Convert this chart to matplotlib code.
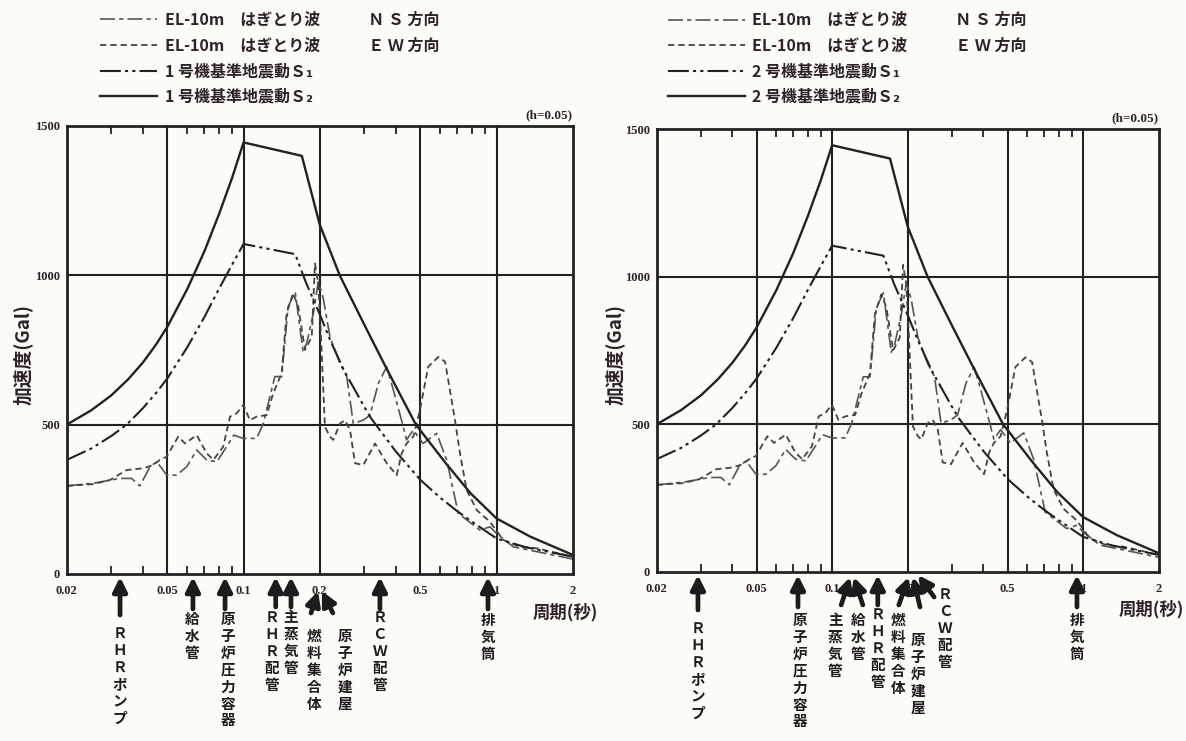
import numpy as np
import matplotlib
matplotlib.use('Agg')
import matplotlib.pyplot as plt

plt.rcParams['font.family'] = ['Noto Sans CJK JP', 'DejaVu Sans']

# ---- response spectra (period [s], acceleration [Gal]) ----
s2_period = [0.02, 0.025, 0.03, 0.035, 0.04, 0.045, 0.05, 0.06, 0.07, 0.08, 0.09, 0.1,
             0.17, 0.2, 0.24, 0.3, 0.37, 0.48, 0.63, 0.79, 1.0, 1.36, 2.0]
s2_acc = [500, 548, 598, 652, 708, 767, 828, 955, 1080, 1205, 1325, 1445,
          1400, 1170, 1000, 835, 683, 500, 371, 270, 186, 125, 64]

s1_period = [0.02, 0.025, 0.03, 0.0345, 0.04, 0.045, 0.05, 0.06, 0.07, 0.08, 0.09, 0.1,
             0.16, 0.177, 0.2, 0.22, 0.25, 0.3, 0.32, 0.4, 0.5, 0.6, 0.7, 0.8,
             1.0, 1.3, 2.0]
s1_acc = [382, 420, 462, 500, 555, 605, 655, 760, 860, 955, 1035, 1105,
          1071, 973, 870, 783, 680, 560, 520, 410, 315, 255, 210, 175,
          119, 90, 58]

ns_period = [0.02, 0.0255, 0.0325, 0.0361, 0.0389, 0.0427, 0.0454, 0.0497, 0.0544,
             0.0596, 0.0653, 0.0715, 0.0785, 0.0857, 0.0915, 0.0998, 0.1127, 0.1197,
             0.133, 0.1415, 0.150, 0.160, 0.172, 0.1777, 0.1887, 0.1975, 0.2066,
             0.2196, 0.2406, 0.2558, 0.2716, 0.2974, 0.3162, 0.341, 0.368, 0.391,
             0.428, 0.441, 0.469, 0.513, 0.58, 0.635, 0.706, 0.86, 0.942, 1.0,
             1.165, 1.5, 2.0]
ns_acc = [295, 304, 320, 320, 295, 359, 376, 331, 331,
          359, 415, 382, 376, 426, 465, 454, 454, 504,
          661, 661, 895, 945, 744, 773, 873, 979, 923,
          794, 705, 661, 504, 515, 532, 638, 694, 616,
          493, 449, 482, 437, 471, 382, 203, 147, 158, 136,
          91, 72, 50]

ew_period = [0.02, 0.0255, 0.0297, 0.0345, 0.0402, 0.044, 0.0467, 0.0497, 0.0552,
             0.0587, 0.0653, 0.0715, 0.076, 0.0831, 0.0884, 0.0939, 0.0998, 0.106,
             0.1127, 0.1235, 0.131, 0.1415, 0.148, 0.157, 0.1646, 0.170, 0.175,
             0.186, 0.1916, 0.1975, 0.2018, 0.2098, 0.2196, 0.2264, 0.2406, 0.2518,
             0.2636, 0.2758, 0.2974, 0.331, 0.368, 0.403, 0.422, 0.441, 0.469,
             0.498, 0.537, 0.589, 0.626, 0.685, 0.717, 0.762, 0.835, 0.942, 1.063,
             1.238, 1.442, 2.0]
ew_acc = [295, 301, 315, 348, 354, 365, 382, 393, 460,
          437, 465, 404, 382, 426, 527, 538, 566, 515,
          527, 532, 605, 672, 873, 940, 895, 817, 750,
          794, 1040, 973, 817, 493, 460, 449, 504, 515,
          482, 371, 365, 437, 371, 331, 404, 437, 460,
          549, 694, 727, 711, 515, 404, 281, 214, 175, 114,
          91, 86, 58]

legend_left = ['EL-10m　はぎとり波　　　Ｎ Ｓ 方向', 'EL-10m　はぎとり波　　　Ｅ Ｗ 方向',
               '1 号機基準地震動Ｓ₁', '1 号機基準地震動Ｓ₂']
legend_right = ['EL-10m　はぎとり波　　　Ｎ Ｓ 方向', 'EL-10m　はぎとり波　　　Ｅ Ｗ 方向',
                '2 号機基準地震動Ｓ₁', '2 号機基準地震動Ｓ₂']

period_ticks = [0.02, 0.05, 0.1, 0.2, 0.5, 1, 2]
period_labels = ['0.02', '0.05', '0.1', '0.2', '0.5', '1', '2']
minor_ticks = [0.03, 0.04, 0.06, 0.07, 0.08, 0.09, 0.3, 0.4, 0.6, 0.7, 0.8, 0.9]
acc_ticks = [0, 500, 1000, 1500]

# equipment natural periods (arrows)
eq_names_1 = ['ＲＨＲポンプ', '給水管', '原子炉圧力容器', 'ＲＨＲ配管', '主蒸気管',
              '燃料集合体', '原子炉建屋', 'ＲＣＷ配管', '排気筒']
eq_period_1 = [0.0325, 0.0631, 0.0845, 0.134, 0.154, 0.197, 0.204, 0.346, 0.925]
eq_names_2 = ['ＲＨＲポンプ', '原子炉圧力容器', '主蒸気管', '給水管', 'ＲＨＲ配管',
              '燃料集合体', '原子炉建屋', 'ＲＣＷ配管', '排気筒']
eq_period_2 = [0.0292, 0.0731, 0.118, 0.122, 0.152, 0.202, 0.210, 0.220, 0.945]

# arrow layout in pixels: tip below axis, tail (dx, dy) from tip, label (dx, top)
layout_1 = [(3, 0, 38, 0, 51), (3, 0, 32, -1, 37), (3, 0, 32, 3, 37),
            (3, 0, 30, -4, 35), (3, 0, 30, 0, 35), (17, -7, 22, -4, 54),
            (17, 11, 22, 23, 54), (3, 0, 32, 0, 35), (3, 0, 32, 0, 38)]
layout_2 = [(3, 0, 35, 0, 48), (3, 0, 32, 2, 40), (5, -9, 28, -15, 40),
            (5, 9, 28, 4, 40), (3, 0, 30, 0, 34), (5, -10, 28, -11, 40),
            (5, 7, 30, 5, 60), (3, 16, 22, 27, 14), (3, 0, 32, 0, 40)]

ink = '#222222'
txt = '#2e2228'
PT = 0.72  # points per pixel at dpi 100

fig = plt.figure(figsize=(11.86, 7.41), dpi=100, facecolor='#fcfcf8')
W, H = 1186, 741


def panel(rect, legend_labels, names, periods, layout, leg_pos, ylab_x):
    ax = fig.add_axes([rect[0] / W, 1 - rect[3] / H, (rect[2] - rect[0]) / W,
                       (rect[3] - rect[1]) / H])
    ax.set_facecolor('#fcfcf8')
    l_ns, = ax.plot(ns_period, ns_acc, color='#555555', lw=1.2,
                    linestyle=(0, (9, 2.5, 2.5, 2.5)))
    l_ew, = ax.plot(ew_period, ew_acc, color='#444444', lw=1.3,
                    linestyle=(0, (3.5, 2.2)))
    l_s1, = ax.plot(s1_period, s1_acc, color=ink, lw=1.5,
                    linestyle=(0, (10, 2, 1.5, 2, 1.5, 2)))
    l_s2, = ax.plot(s2_period, s2_acc, color=ink, lw=1.7)

    ax.set_xscale('log')
    ax.set_xlim(0.02, 2)
    ax.set_ylim(0, 1500)
    for p in period_ticks[1:-1]:
        ax.axvline(p, color=ink, lw=1.5, zorder=0)
    for a in acc_ticks[1:-1]:
        ax.axhline(a, color=ink, lw=1.5, zorder=0)
    for s in ax.spines.values():
        s.set_linewidth(2)
        s.set_color(ink)

    ax.set_xticks(period_ticks)
    ax.set_xticklabels(period_labels)
    ax.set_xticks(minor_ticks, minor=True)
    ax.tick_params(axis='x', which='major', length=0, pad=8)
    ax.tick_params(axis='x', which='minor', direction='in', length=6, width=1.3,
                   top=True, bottom=True, color=ink)
    ax.set_yticks(acc_ticks)
    ax.tick_params(axis='y', length=0, pad=5)
    for lab in ax.get_xticklabels() + ax.get_yticklabels():
        lab.set_fontfamily('Liberation Serif')
        lab.set_fontweight('bold')
        lab.set_fontsize(9)
        lab.set_color(txt)

    ax.set_ylabel('加速度(Gal)', fontsize=13.5, color=txt, fontweight='bold')
    ax.yaxis.set_label_coords(ylab_x, 0.49)
    ax.text(0.985, -0.085, '周期(秒)', transform=ax.transAxes, ha='center',
            va='center', fontsize=12.5, color=txt, fontweight='bold')
    ax.text(1.0, 1.01, '(h=0.05)', transform=ax.transAxes, ha='right',
            va='bottom', fontsize=9.5, color=txt, fontweight='bold',
            family='Liberation Serif')

    leg = ax.legend([l_ns, l_ew, l_s1, l_s2], legend_labels, loc='lower left',
                    bbox_to_anchor=leg_pos[0], frameon=False, fontsize=11.5,
                    handlelength=leg_pos[1], handletextpad=0.45,
                    labelspacing=0.6, borderaxespad=0)
    for t in leg.get_texts():
        t.set_color(txt)
        t.set_fontweight('bold')

    ax_h = rect[3] - rect[1]
    for name, p, (tip, tdx, tdy, ldx, ltop) in zip(names, periods, layout):
        y0 = -tip / ax_h
        ax.annotate('', xy=(p, y0), xycoords=('data', 'axes fraction'),
                    xytext=(tdx * PT, -tdy * PT), textcoords='offset points',
                    arrowprops=dict(arrowstyle='-|>,head_length=0.6,head_width=0.3',
                                    lw=3.4, color='#1c1c1c', shrinkA=0, shrinkB=0,
                                    mutation_scale=14),
                    annotation_clip=False)
        ax.annotate('\n'.join(name), xy=(p, 0), xycoords=('data', 'axes fraction'),
                    xytext=(ldx * PT, -ltop * PT), textcoords='offset points',
                    ha='center', va='top', fontsize=10.5, linespacing=1.07,
                    fontweight='bold', color='#1f1a1c', annotation_clip=False)
    return ax


panel((66.7, 126, 572.7, 574), legend_left, eq_names_1, eq_period_1, layout_1,
      ((0.053, 1.033), 3.6), -0.068)
panel((656.7, 129, 1158.7, 572), legend_right, eq_names_2, eq_period_2, layout_2,
      ((0.0098, 1.04), 4.8), -0.063)

fig.savefig('out.png', dpi=100, facecolor=fig.get_facecolor())
